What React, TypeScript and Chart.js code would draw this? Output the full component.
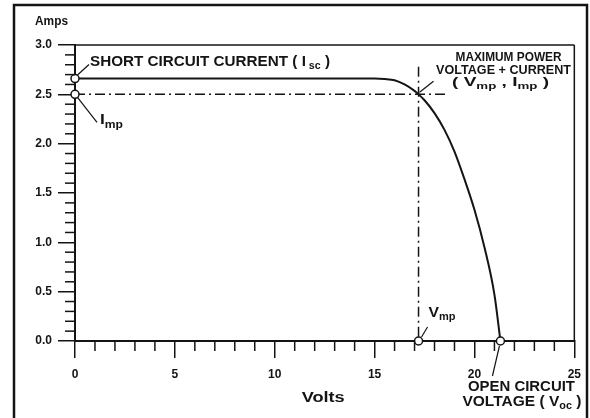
import React, { useEffect, useRef } from "react";
import { Chart, registerables } from "chart.js";

Chart.register(...registerables);

// I-V curve of a solar module
const curveVolts = [0, 5, 10, 14, 15, 15.5, 16, 16.5, 17, 17.2, 17.5, 18, 18.5, 19, 19.5, 20, 20.5, 21, 21.3];
const curveAmps = [2.66, 2.66, 2.66, 2.66, 2.66, 2.655, 2.643, 2.6, 2.535, 2.5, 2.44, 2.31, 2.14, 1.92, 1.64, 1.33, 0.95, 0.47, 0];

// key points: Isc, Imp, Vmp, Voc
const markerVolts = [0, 0, 17.2, 21.3];
const markerAmps = [2.66, 2.5, 0, 0];

// maximum-power reference lines
const impLineVolts = [0, 18.55];
const impLineAmps = [2.5, 2.5];
const vmpLineVolts = [17.2, 17.2];
const vmpLineAmps = [2.78, 0];

const xTickStep = 5;
const yTickStep = 0.5;

const FONT = "'Liberation Sans', Arial, Helvetica, sans-serif";
const INK = "#141414";

type Seg = [string, boolean];

function rich(
  ctx: CanvasRenderingContext2D,
  segs: Seg[],
  x: number,
  y: number,
  size: number,
  align: "left" | "center" | "right",
  targetW?: number
) {
  const sub = size * 0.7;
  let w = 0;
  const widths: number[] = [];
  for (const [t, s] of segs) {
    ctx.font = `bold ${s ? sub : size}px ${FONT}`;
    const m = ctx.measureText(t).width;
    widths.push(m);
    w += m;
  }
  const sx = targetW ? targetW / w : 1;
  ctx.save();
  ctx.translate(x, y);
  ctx.scale(sx, 1);
  let cx = align === "center" ? -w / 2 : align === "right" ? -w : 0;
  ctx.textBaseline = "middle";
  ctx.textAlign = "left";
  ctx.fillStyle = INK;
  segs.forEach(([t, s], i) => {
    ctx.font = `bold ${s ? sub : size}px ${FONT}`;
    ctx.fillText(t, cx, s ? size * 0.3 : 0);
    cx += widths[i];
  });
  ctx.restore();
}

function line(ctx: CanvasRenderingContext2D, x1: number, y1: number, x2: number, y2: number, w = 1.2) {
  ctx.beginPath();
  ctx.lineWidth = w;
  ctx.strokeStyle = INK;
  ctx.moveTo(x1, y1);
  ctx.lineTo(x2, y2);
  ctx.stroke();
}

const annotPlugin = {
  id: "annot",
  afterDraw(chart: any) {
    const { ctx, chartArea: ca } = chart;
    const xs = chart.scales.x;
    const ys = chart.scales.y;
    ctx.save();
    // outer frame
    ctx.lineWidth = 2.5;
    ctx.strokeStyle = INK;
    ctx.strokeRect(14, 5, 573, 460);
    // top and right box lines
    line(ctx, ca.left, ca.top, ca.right, ca.top, 1.5);
    line(ctx, ca.right, ca.top, ca.right, ca.bottom, 1.5);
    // minor ticks
    for (let v = 1; v < 25; v++) {
      if (v % xTickStep === 0) continue;
      const px = xs.getPixelForValue(v);
      line(ctx, px, ca.bottom, px, ca.bottom + 10, 1.5);
    }
    for (let i = 1; i < 30; i++) {
      if (i % 5 === 0) continue;
      const py = ys.getPixelForValue(i / 10);
      line(ctx, ca.left - 10, py, ca.left, py, 1.5);
    }

    const P = (i: number) => ({ x: xs.getPixelForValue(markerVolts[i]), y: ys.getPixelForValue(markerAmps[i]) });
    const isc = P(0);
    const imp = P(1);
    const vmp = P(2);
    const voc = P(3);
    const mp = { x: xs.getPixelForValue(vmpLineVolts[0]), y: ys.getPixelForValue(impLineAmps[0]) };

    // leaders
    line(ctx, isc.x + 2.5, isc.y - 3.5, isc.x + 14, isc.y - 14);
    line(ctx, imp.x + 2.5, imp.y + 3, imp.x + 22, imp.y + 28);
    line(ctx, mp.x + 1, mp.y - 2, mp.x + 15, mp.y - 13);
    line(ctx, vmp.x + 3, vmp.y - 4, vmp.x + 9, vmp.y - 14);
    line(ctx, voc.x - 1, voc.y + 5, voc.x - 8, voc.y + 35);

    // texts
    rich(ctx, [["SHORT CIRCUIT CURRENT ( I", false], [" sc", true], [" )", false]], isc.x + 15, isc.y - 17, 15, "left", 240);
    rich(ctx, [["I", false], ["mp", true]], imp.x + 25, imp.y + 26, 15, "left", 23);
    rich(ctx, [["MAXIMUM POWER", false]], mp.x + 90, mp.y - 37, 13, "center", 106);
    rich(ctx, [["VOLTAGE + CURRENT", false]], mp.x + 85, mp.y - 24, 13, "center", 135);
    rich(ctx, [["( V", false], ["mp", true], [" , I", false], ["mp", true], [" )", false]], mp.x + 82, mp.y - 12, 13, "center", 97);
    rich(ctx, [["V", false], ["mp", true]], vmp.x + 10, vmp.y - 28, 15, "left", 27);
    rich(ctx, [["OPEN CIRCUIT", false]], voc.x + 21, voc.y + 46, 15, "center", 107);
    rich(ctx, [["VOLTAGE ( V", false], ["oc", true], [" )", false]], voc.x - 38, voc.y + 61, 15, "left", 119);

    rich(ctx, [["Amps", false]], ca.left - 40, ca.top - 23, 12.5, "left", 33);
    rich(ctx, [["Volts", false]], (ca.left + ca.right) / 2 - 23, ca.bottom + 57, 14.5, "left", 43);
    ctx.restore();
  },
};

export default function App() {
  const ref = useRef<HTMLCanvasElement | null>(null);
  useEffect(() => {
    if (!ref.current) return;
    const curve = curveVolts.map((v, i) => ({ x: v, y: curveAmps[i] }));
    const markers = markerVolts.map((v, i) => ({ x: v, y: markerAmps[i] }));
    const hLine = impLineVolts.map((v, i) => ({ x: v, y: impLineAmps[i] }));
    const vLine = vmpLineVolts.map((v, i) => ({ x: v, y: vmpLineAmps[i] }));
    const tickFont = { family: FONT, weight: "bold" as const, size: 12 };
    const chart = new Chart(ref.current, {
      type: "scatter",
      data: {
        datasets: [
          {
            label: "points",
            data: markers,
            showLine: false,
            pointRadius: 4,
            pointBackgroundColor: "#ffffff",
            pointBorderColor: INK,
            pointBorderWidth: 1.5,
            clip: false as any,
          },
          {
            label: "I-V",
            data: curve,
            showLine: true,
            borderColor: INK,
            borderWidth: 2,
            pointRadius: 0,
            cubicInterpolationMode: "monotone",
            clip: false as any,
          },
          {
            label: "Imp",
            data: hLine,
            showLine: true,
            borderColor: INK,
            borderWidth: 1.5,
            borderDash: [10, 4, 2, 4],
            pointRadius: 0,
          },
          {
            label: "Vmp",
            data: vLine,
            showLine: true,
            borderColor: INK,
            borderWidth: 1.5,
            borderDash: [10, 4, 2, 4],
            pointRadius: 0,
          },
        ],
      },
      options: {
        responsive: false,
        animation: false,
        events: [],
        layout: { padding: { top: 45, right: 14, left: 0, bottom: 0 } },
        plugins: { legend: { display: false }, tooltip: { enabled: false } },
        scales: {
          x: {
            type: "linear",
            min: 0,
            max: 25,
            ticks: { stepSize: xTickStep, font: tickFont, color: INK, padding: 9, maxRotation: 0 },
            grid: { display: true, drawOnChartArea: false, drawTicks: true, tickLength: 17, color: INK, lineWidth: 1.5 },
            border: { display: true, color: INK, width: 2 },
            afterFit: (s: any) => {
              s.height = 77;
            },
          },
          y: {
            type: "linear",
            min: 0,
            max: 3,
            ticks: {
              stepSize: yTickStep,
              font: tickFont,
              color: INK,
              padding: 6,
              callback: (v: any) => Number(v).toFixed(1),
            },
            grid: { display: true, drawOnChartArea: false, drawTicks: true, tickLength: 17, color: INK, lineWidth: 1.5 },
            border: { display: true, color: INK, width: 2 },
            afterFit: (s: any) => {
              s.width = 75;
            },
          },
        },
      },
      plugins: [annotPlugin],
    });
    return () => chart.destroy();
  }, []);
  return (
    <div style={{ position: "fixed", left: 0, top: 0, width: 590, height: 418, background: "#fff" }}>
      <canvas ref={ref} width={590} height={418} style={{ display: "block" }} />
    </div>
  );
}
